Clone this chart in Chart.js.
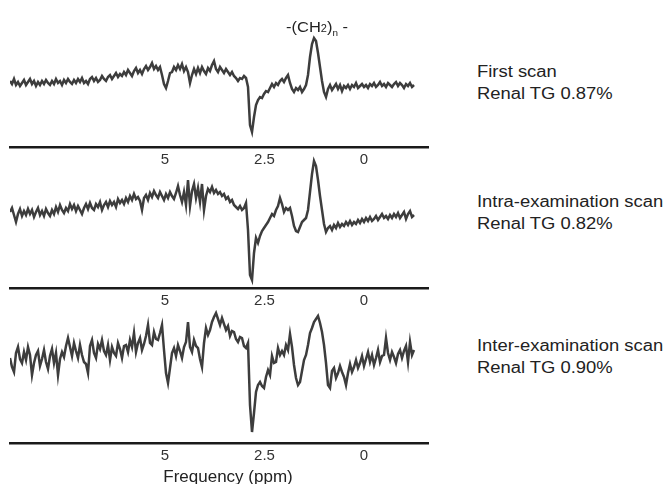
<!DOCTYPE html>
<html>
<head>
<meta charset="utf-8">
<script src="https://cdn.jsdelivr.net/npm/chart.js"></script>
<style>
  body { margin: 0; width: 668px; height: 484px; overflow: hidden; background: #fff; position: relative;
         font-family: "Liberation Sans", Arial, sans-serif; color: #222; }
  canvas { position: absolute; left: 0; }
  .note { position: absolute; left: 477px; font-size: 16px; line-height: 22px; white-space: nowrap;
          transform: scaleX(1.15); transform-origin: left top; }
  .peak { position: absolute; left: 317px; top: 18px; font-size: 15px; line-height: 18px; white-space: nowrap;
          transform: translateX(-50%) scaleX(1.1); }
  .peak .two { font-size: 10px; }
  .peak sub { font-size: 9px; vertical-align: -4px; }
  .xtitle { position: absolute; left: 228px; top: 467px; font-size: 17px; line-height: 20px; white-space: nowrap;
            transform: translateX(-50%); }
</style>
</head>
<body>
<canvas id="scan1" width="440" height="177" style="top:0px"></canvas>
<canvas id="scan2" width="440" height="168" style="top:150px"></canvas>
<canvas id="scan3" width="440" height="173" style="top:300px"></canvas>

<div class="peak">-(CH<span class="two">2</span>)<sub>n</sub> -</div>
<div class="note" style="top:60.5px">First scan<br>Renal TG 0.87%</div>
<div class="note" style="top:190.5px">Intra-examination scan<br>Renal TG 0.82%</div>
<div class="note" style="top:334.5px">Inter-examination scan<br>Renal TG 0.90%</div>
<div class="xtitle">Frequency (ppm)</div>

<script>
// spectra sampled from high ppm (left) to low ppm (right), signal in arbitrary units
const ppmStart = 8.894;
const ppmStep = 0.05025;
const ppmMin = -1.608;
const ppmMax = 8.894;
const tickValues = [5, 2.5, 0];

const firstScan = [
  66, 63, 68, 62, 65, 61, 64, 67, 62, 65,
  68, 63, 66, 61, 65, 62, 66, 63, 67, 64,
  62, 66, 63, 68, 64, 66, 62, 67, 64, 68,
  65, 63, 67, 64, 68, 65, 69, 64, 66, 63,
  68, 70, 66, 69, 65, 67, 71, 68, 66, 70,
  72, 68, 71, 74, 70, 73, 71, 75, 72, 77,
  74, 71, 76, 79, 74, 77, 73, 78, 81, 77,
  80, 84, 78, 81, 77, 80, 72, 63, 59, 66,
  74, 75, 80, 77, 82, 78, 83, 76, 80, 75,
  64, 72, 78, 73, 79, 74, 80, 76, 73, 79,
  76, 82, 86, 78, 75, 80, 77, 74, 78, 75,
  72, 75, 71, 69, 66, 69, 68, 71, 69, 60,
  22, 15, 30, 42, 47, 50, 49, 53, 56, 55,
  59, 63, 60, 64, 62, 66, 68, 65, 69, 72,
  64, 58, 55, 59, 57, 60, 55, 58, 62, 72,
  90, 103, 109, 106, 94, 80, 66, 55, 50, 58,
  62, 57, 60, 63, 58, 62, 56, 61, 59, 62,
  58, 62, 60, 64, 59, 61, 63, 60, 62, 59,
  63, 61, 64, 60, 62, 65, 61, 63, 60, 64,
  62, 60, 63, 65, 61, 64, 62, 59, 63, 61,
  64, 60, 62
];

const intraScan = [
  76, 80, 73, 66, 74, 79, 72, 77, 73, 79,
  74, 78, 71, 76, 80, 73, 77, 72, 79, 75,
  72, 78, 74, 81, 76, 83, 78, 75, 80, 77,
  84, 79, 83, 77, 82, 78, 74, 80, 84, 79,
  85, 80, 78, 84, 81, 86, 78, 83, 86, 81,
  87, 83, 86, 81, 89, 85, 88, 84, 90, 86,
  92, 88, 94, 89, 91, 87, 78, 90, 93, 88,
  95, 91, 97, 93, 90, 96, 92, 88, 94, 90,
  96, 92, 89, 95, 102, 93, 86, 96, 83, 108,
  82, 97, 104, 90, 100, 86, 104, 78, 92, 99,
  96, 101, 95, 98, 94, 96, 92, 94, 89, 91,
  86, 88, 83, 81, 79, 82, 78, 80, 85, 58,
  13, 8, 35, 50, 45, 52, 57, 60, 63, 66,
  70, 74, 72, 78, 82, 90, 84, 76, 80, 78,
  80, 72, 62, 57, 56, 61, 66, 68, 70, 78,
  96, 114, 127, 122, 108, 92, 78, 64, 56, 60,
  62, 58, 63, 60, 65, 61, 64, 62, 66, 63,
  67, 63, 66, 64, 68, 65, 69, 66, 70, 67,
  71, 67, 69, 72, 68, 71, 74, 70, 72, 69,
  73, 70, 74, 71, 75, 70, 73, 76, 69, 74,
  77, 71, 73
];

const interScan = [
  85, 76, 71, 90, 96, 84, 80, 91, 83, 96,
  88, 68, 80, 88, 92, 77, 84, 93, 81, 74,
  87, 94, 80, 90, 68, 84, 91, 86, 97, 105,
  96, 87, 100, 92, 85, 98, 88, 81, 79, 70,
  97, 103, 90, 85, 99, 94, 103, 92, 88, 98,
  83, 96, 90, 87, 100, 94, 85, 97, 98, 91,
  103, 96, 110, 91, 100, 105, 93, 99, 107, 118,
  100, 98, 111, 104, 103, 110, 118, 93, 70, 60,
  75, 90, 95, 87, 98, 92, 85, 96, 101, 121,
  96, 91, 103, 97, 95, 84, 76, 100, 115, 108,
  113, 121, 126, 130, 124, 118, 125, 119, 113, 117,
  107, 112, 111, 104, 101, 106, 105, 97, 95, 100,
  38, 11, 30, 51, 58, 61, 57, 55, 66, 73,
  68, 87, 80, 81, 95, 88, 92, 88, 98, 93,
  109, 96, 78, 65, 58, 61, 72, 83, 88, 98,
  110, 115, 121, 124, 127, 120, 111, 98, 80, 58,
  55, 72, 75, 65, 70, 77, 71, 66, 58, 70,
  79, 71, 76, 83, 75, 80, 87, 77, 84, 91,
  81, 88, 78, 85, 93, 81, 87, 88, 105, 90,
  83, 91, 86, 80, 89, 93, 85, 92, 97, 81,
  101, 88, 93
];

function makePanel(id, values, yMax) {
    const points = values.map((v, i) => ({ x: ppmStart - i * ppmStep, y: v }));
    new Chart(document.getElementById(id), {
        type: 'line',
        data: {
            datasets: [{
                data: points,
                borderColor: '#3d3d3d',
                borderWidth: 2.5,
                pointRadius: 0,
                tension: 0,
                fill: false
            }]
        },
        options: {
            responsive: false,
            animation: false,
            events: [],
            layout: { padding: { left: 10, right: 12, top: 0, bottom: 0 } },
            plugins: { legend: { display: false }, tooltip: { enabled: false } },
            scales: {
                x: {
                    type: 'linear',
                    reverse: true,
                    min: ppmMin,
                    max: ppmMax,
                    afterBuildTicks: (s) => { s.ticks = tickValues.map(v => ({ value: v })); },
                    afterFit: (s) => { s.height = 30; },
                    grid: { display: false, drawTicks: false },
                    border: { display: true, color: '#1a1a1a', width: 2.5 },
                    ticks: {
                        padding: 4,
                        color: '#333',
                        autoSkip: false,
                        maxRotation: 0,
                        font: { family: '"Liberation Sans", Arial, sans-serif', size: 15 },
                        callback: (v) => String(v)
                    }
                },
                y: { display: false, min: 0, max: yMax }
            }
        }
    });
}

makePanel('scan1', firstScan, 147);
makePanel('scan2', intraScan, 138);
makePanel('scan3', interScan, 143);
</script>
</body>
</html>
